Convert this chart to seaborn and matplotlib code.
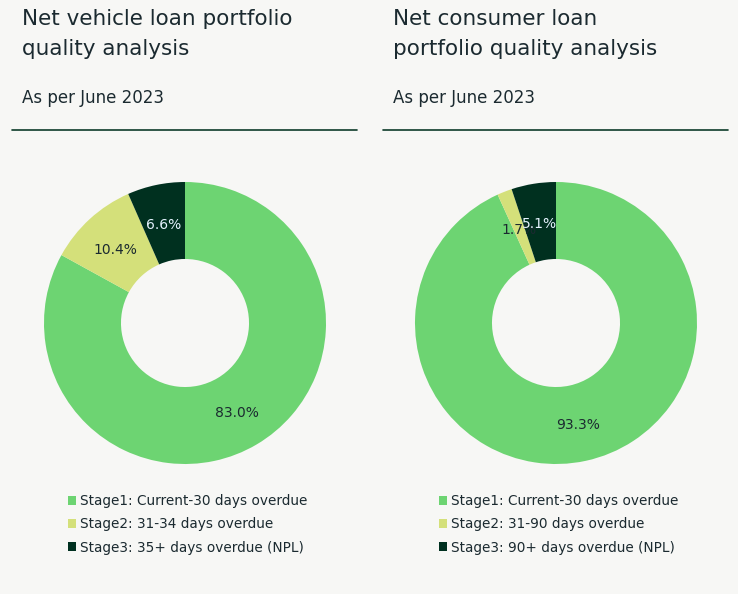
import matplotlib
matplotlib.use("Agg")
import matplotlib.pyplot as plt
import seaborn as sns
from matplotlib.lines import Line2D

# data
stages_vehicle = ["Stage1: Current-30 days overdue", "Stage2: 31-34 days overdue",
                  "Stage3: 35+ days overdue (NPL)"]
stages_consumer = ["Stage1: Current-30 days overdue", "Stage2: 31-90 days overdue",
                   "Stage3: 90+ days overdue (NPL)"]
vehicle_share = [83.0, 10.4, 6.6]
consumer_share = [93.3, 1.7, 5.1]
titles = ["Net vehicle loan portfolio\nquality analysis",
          "Net consumer loan\nportfolio quality analysis"]
subtitle = "As per June 2023"

colors = ["#6dd472", "#d4e07a", "#00301f"]
bg = "#f7f7f5"
text_col = "#1b2a30"

sns.set_theme(style="white")
plt.rcParams["font.family"] = ["DejaVu Sans"]

W, H = 738, 594
fig = plt.figure(figsize=(W / 100, H / 100), dpi=100, facecolor=bg)


def donut(x0, values, labels, title):
    # x0 = left pixel of the panel
    cx, cy, r = x0 + 173, 323, 141
    ax = fig.add_axes([(cx - r) / W, (H - cy - r) / H, 2 * r / W, 2 * r / H])
    ax.set_facecolor(bg)
    total = sum(values)
    wedges, _, autotexts = ax.pie(
        values, colors=colors, startangle=90, counterclock=False,
        radius=1, autopct=lambda p: f"{p * total / 100:.1f}%", pctdistance=0.727,
        wedgeprops=dict(width=0.546, linewidth=0),
        textprops=dict(fontsize=10, color=text_col),
    )
    autotexts[2].set_color("#e6f3ff")
    for t in autotexts:
        t.set_y(t.get_position()[1] - 0.015)
    ax.set_xlim(-1, 1)
    ax.set_ylim(-1, 1)
    ax.axis("off")

    fig.text((x0 + 10) / W, 1 - 9 / H, title, fontsize=15.5, color=text_col,
             va="top", ha="left", linespacing=1.6)
    fig.text((x0 + 10) / W, 1 - 89 / H, subtitle, fontsize=12, color=text_col,
             va="top", ha="left")
    fig.add_artist(Line2D([x0 / W, (x0 + 345) / W], [1 - 130 / H] * 2,
                          color="#0d3b2a", linewidth=1.2))

    fig.legend(wedges, labels, loc="upper left",
               bbox_to_anchor=((x0 + 56) / W, 1 - 494 / H),
               frameon=False, fontsize=9.8, labelcolor=text_col,
               handlelength=0.6, handleheight=0.6, handletextpad=0.25,
               labelspacing=0.68, borderpad=0, borderaxespad=0)


donut(12, vehicle_share, stages_vehicle, titles[0])
donut(383, consumer_share, stages_consumer, titles[1])

fig.savefig("out.png", dpi=100, facecolor=bg)
